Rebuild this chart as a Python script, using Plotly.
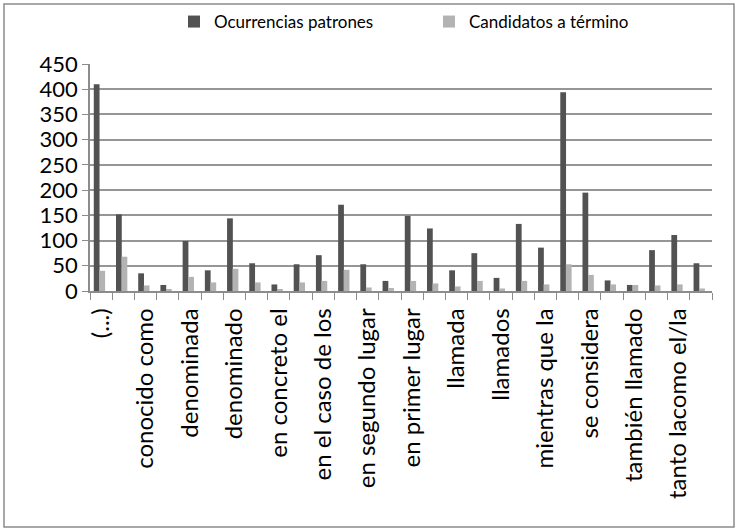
import plotly.graph_objects as go

categories = [
    "(...)", "conocida como", "conocido como", "conocidos como",
    "denominada", "denominadas", "denominado", "denominados",
    "en concreto el", "en concreto la", "en el caso de los", "en el caso de las",
    "en segundo lugar", "en tercer lugar", "en primer lugar", "es decir",
    "llamada", "llamado", "llamados", "mientras que el",
    "mientras que la", "o sea", "se considera", "se denomina",
    "también llamado", "tanto el/la como", "tanto lacomo el/la", "y otros",
]

ocurrencias = [410, 152, 35, 12, 99, 41, 144, 55, 13, 53, 71, 171, 53, 20,
               149, 124, 41, 75, 26, 133, 86, 394, 195, 21, 12, 81, 111, 55]
candidatos = [40, 68, 11, 3, 28, 17, 44, 17, 3, 17, 20, 42, 7, 6,
              20, 15, 9, 20, 5, 20, 13, 53, 32, 13, 12, 11, 13, 5]

y_ticks = list(range(0, 451, 50))

W, H = 738, 532
L, R, T, B = 90, 26, 64, 241
pw, ph = W - L - R, H - T - B

def px_x(p):
    return (p - L) / pw

def px_y(p):
    return (H - B - p) / ph

font = "Lato, 'Open Sans', sans-serif"

fig = go.Figure()
fig.add_trace(go.Bar(
    x=categories, y=ocurrencias, name="Ocurrencias patrones",
    marker=dict(color="#525252", line=dict(width=0)),
    width=0.26, offset=-0.33,
))
fig.add_trace(go.Bar(
    x=categories, y=candidatos, name="Candidatos a término",
    marker=dict(color="#b3b3b3", line=dict(width=0)),
    width=0.26, offset=-0.08,
))

fig.update_layout(
    width=W, height=H,
    margin=dict(l=L, r=R, t=T, b=B, autoexpand=False),
    paper_bgcolor="white", plot_bgcolor="white",
    font=dict(family=font, size=17, color="#000"),
    barmode="overlay",
    showlegend=True,
    legend=dict(
        orientation="h", xref="container", yref="container",
        x=174 / W, y=1 - 22 / H, xanchor="left", yanchor="middle",
        entrywidth=210, entrywidthmode="pixels",
        font=dict(family=font, size=17, color="#000"),
        itemclick=False, tracegroupgap=0,
        bgcolor="rgba(0,0,0,0)",
    ),
    xaxis=dict(
        type="category", categoryorder="array", categoryarray=categories,
        range=[-0.5, len(categories) - 0.5],
        tickmode="array", tickvals=categories,
        ticktext=[c if i % 2 == 0 else "" for i, c in enumerate(categories)],
        tickson="boundaries", ticks="outside", ticklen=7, tickcolor="#8c8c8c",
        ticklabelstandoff=6,
        tickangle=-90, tickfont=dict(family=font, size=24, color="#000"),
        showline=True, linecolor="#8c8c8c", linewidth=1.5,
        showgrid=False, zeroline=False,
    ),
    yaxis=dict(
        range=[0, 450], tickmode="array", tickvals=y_ticks,
        ticks="outside", ticklen=6, tickcolor="#8c8c8c",
        ticklabelstandoff=0,
        showline=True, linecolor="#8c8c8c", linewidth=1.5,
        showgrid=True, gridcolor="#969696", gridwidth=2.4,
        zeroline=False, tickfont=dict(family=font, size=22, color="#000"),
    ),
    shapes=[dict(
        type="rect", xref="paper", yref="paper",
        x0=px_x(4), x1=px_x(734), y0=px_y(527), y1=px_y(4),
        line=dict(color="#8c8c8c", width=1.5), fillcolor="rgba(0,0,0,0)",
        layer="below",
    )],
)

fig.write_html("out.html", config={"displayModeBar": False},
               post_script="document.body.style.margin='0';")
